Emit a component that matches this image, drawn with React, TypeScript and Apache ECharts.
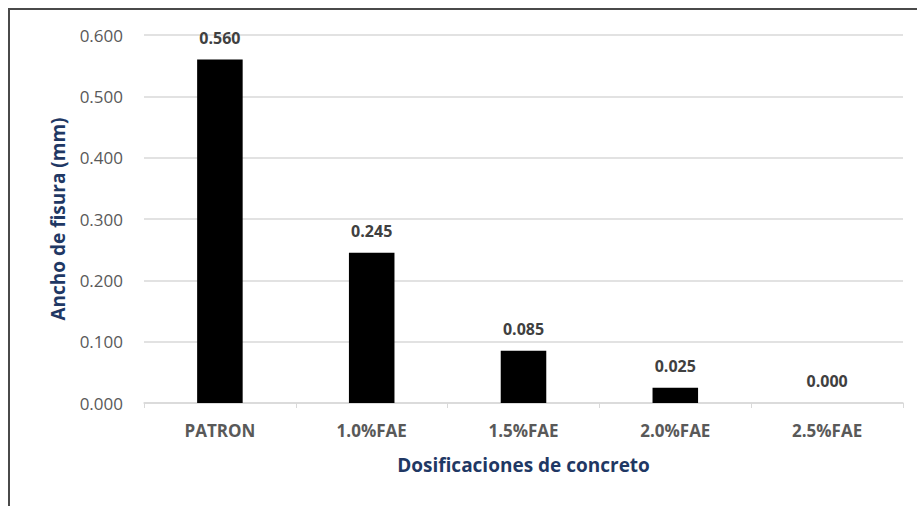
import React, { useEffect, useRef } from "react";
import * as echarts from "echarts";

const categories = ["PATRON", "1.0%FAE", "1.5%FAE", "2.0%FAE", "2.5%FAE"];
const crackWidths = [0.56, 0.245, 0.085, 0.025, 0.0];
const yTicks = { min: 0, max: 0.6, interval: 0.1 };

const FONT = "'Open Sans'";

export default function App() {
  const ref = useRef<HTMLDivElement>(null);
  useEffect(() => {
    document.body.style.margin = "0";
    const chart = echarts.init(ref.current!, null, { renderer: "svg" });
    chart.setOption({
      animation: false,
      backgroundColor: "#ffffff",
      textStyle: { fontFamily: FONT },
      graphic: [
        {
          type: "rect",
          shape: { x: 9, y: 9, width: 960, height: 560 },
          style: { fill: "none", stroke: "#4a4a4a", lineWidth: 2 },
          silent: true,
        },
      ],
      grid: { left: 144, right: 14, top: 35, bottom: 103, containLabel: false },
      xAxis: {
        type: "category",
        data: categories,
        name: "Dosificaciones de concreto",
        nameLocation: "middle",
        nameGap: 52,
        nameTextStyle: { color: "#1f3864", fontWeight: "bold", fontSize: 19, fontFamily: FONT },
        axisLine: { lineStyle: { color: "#d9d9d9", width: 1.5 } },
        axisTick: { show: true, alignWithLabel: false, length: 5, lineStyle: { color: "#d9d9d9" } },
        axisLabel: { color: "#595959", fontWeight: "bold", fontSize: 17, margin: 19, fontFamily: FONT },
      },
      yAxis: {
        type: "value",
        min: yTicks.min,
        max: yTicks.max,
        interval: yTicks.interval,
        name: "Ancho de fisura (mm)",
        nameLocation: "middle",
        nameGap: 77,
        nameTextStyle: { color: "#1f3864", fontWeight: "bold", fontSize: 19, fontFamily: FONT },
        axisLine: { show: false },
        axisTick: { show: false },
        axisLabel: {
          color: "#595959",
          fontSize: 17,
          margin: 21,
          fontFamily: FONT,
          formatter: (v: number) => v.toFixed(3),
        },
        splitLine: { lineStyle: { color: "#d9d9d9", width: 1.5 } },
      },
      series: [
        {
          type: "bar",
          data: crackWidths,
          barWidth: "30%",
          itemStyle: { color: "#000000" },
          label: {
            show: true,
            position: "top",
            distance: 14,
            color: "#404040",
            fontWeight: "bold",
            fontSize: 16,
            fontFamily: FONT,
            formatter: (p: any) => (p.value as number).toFixed(3),
          },
        },
      ],
    });
    return () => chart.dispose();
  }, []);
  return <div ref={ref} style={{ width: 917, height: 506 }} />;
}
